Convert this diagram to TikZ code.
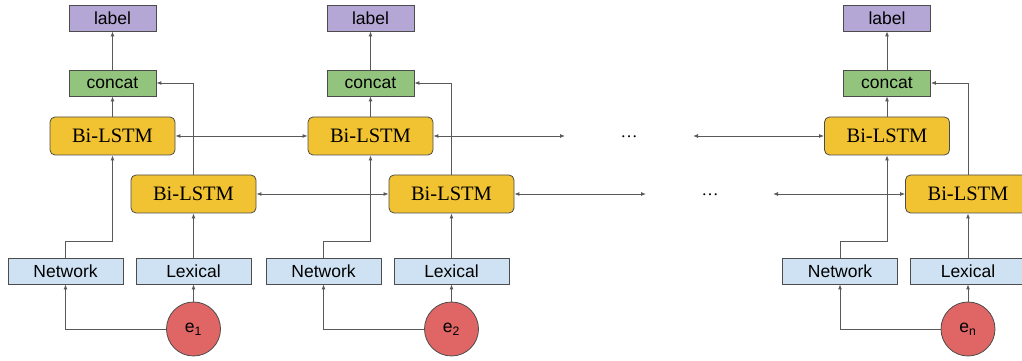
\documentclass[tikz,border=0pt]{standalone}
\usepackage{fontspec}
\setmainfont{Liberation Serif}
\setsansfont{Liberation Sans}
\usetikzlibrary{arrows.meta,positioning}
\definecolor{labelpurple}{HTML}{B4A7D6}
\definecolor{concatgreen}{HTML}{93C47D}
\definecolor{lstmyellow}{HTML}{F1C232}
\definecolor{featblue}{HTML}{CFE2F3}
\definecolor{entityred}{HTML}{E06666}
\definecolor{linegray}{HTML}{595959}
\tikzset{
	box/.style={draw=black!70, line width=0.8pt, inner sep=0pt, font=\sffamily\fontsize{17.5}{20}\selectfont},
	labelbox/.style={box, fill=labelpurple, minimum width=87pt, minimum height=26pt},
	concatbox/.style={box, fill=concatgreen, minimum width=87pt, minimum height=26pt},
	lstmbox/.style={box, fill=lstmyellow, rounded corners=5pt, minimum width=125pt, minimum height=38pt, font=\rmfamily\fontsize{20.5}{24}\selectfont},
	featbox/.style={box, fill=featblue, minimum width=115pt, minimum height=26pt},
	entity/.style={box, circle, fill=entityred, minimum size=54pt},
	conn/.style={draw=linegray, line width=0.9pt, -{Latex[length=5pt,width=4pt]}},
	bothway/.style={conn, {Latex[length=5pt,width=4pt]}-{Latex[length=5pt,width=4pt]}},
	gap/.style={font=\rmfamily\fontsize{17}{20}\selectfont, inner sep=0pt}
}
\begin{document}
\begin{tikzpicture}
	\useasboundingbox (0pt, 0pt) rectangle (1022pt, 361pt);
	% first entity
	\node[labelbox] (labelone)		at (112.5pt, 343pt)	{label};
	\node[concatbox] (concatone)	at (112.5pt, 278pt)	{concat};
	\node[lstmbox] (bitopone)		at (112.5pt, 225pt)	{Bi-LSTM};
	\node[lstmbox] (bibotone)		at (193.5pt, 167pt)	{Bi-LSTM};
	\node[featbox] (netone)		at (65.5pt, 90pt)	{Network};
	\node[featbox] (lexone)		at (193.5pt, 90pt)	{Lexical};
	\node[entity] (eone)			at (193.5pt, 32pt)	{e\textsubscript{1}};
	% second entity
	\node[labelbox] (labeltwo)		at (370.5pt, 343pt)	{label};
	\node[concatbox] (concattwo)	at (370.5pt, 278pt)	{concat};
	\node[lstmbox] (bitoptwo)		at (370.5pt, 225pt)	{Bi-LSTM};
	\node[lstmbox] (bibottwo)		at (451.5pt, 167pt)	{Bi-LSTM};
	\node[featbox] (nettwo)		at (323.5pt, 90pt)	{Network};
	\node[featbox] (lextwo)		at (451.5pt, 90pt)	{Lexical};
	\node[entity] (etwo)			at (451.5pt, 32pt)	{e\textsubscript{2}};
	% last entity
	\node[labelbox] (labeln)		at (887pt, 343pt)	{label};
	\node[concatbox] (concatn)		at (887pt, 278pt)	{concat};
	\node[lstmbox] (bitopn)		at (887pt, 225pt)	{Bi-LSTM};
	\node[lstmbox] (bibotn)		at (968pt, 167pt)	{Bi-LSTM};
	\node[featbox] (netn)			at (840pt, 90pt)	{Network};
	\node[featbox] (lexn)			at (968pt, 90pt)	{Lexical};
	\node[entity] (en)			at (968pt, 32pt)	{e\textsubscript{n}};
	% the gap
	\node[gap] (dotstop)			at (629pt, 224pt)	{\dots};
	\node[gap] (dotsbot)			at (710pt, 166pt)	{\dots};
	\coordinate (topout)			at (565pt, 225pt);
	\coordinate (topin)			at (693pt, 225pt);
	\coordinate (botout)			at (646pt, 167pt);
	\coordinate (botin)			at (773pt, 167pt);
	% vertical flow
	\draw[conn] (eone) -- (lexone);
	\draw[conn] (eone) -| (netone);
	\draw[conn] (netone) -- ++(0pt, 30pt) -| (bitopone);
	\draw[conn] (lexone) -- (bibotone);
	\draw[conn] (bibotone) |- (concatone);
	\draw[conn] (bitopone) -- (concatone);
	\draw[conn] (concatone) -- (labelone);
	\draw[conn] (etwo) -- (lextwo);
	\draw[conn] (etwo) -| (nettwo);
	\draw[conn] (nettwo) -- ++(0pt, 30pt) -| (bitoptwo);
	\draw[conn] (lextwo) -- (bibottwo);
	\draw[conn] (bibottwo) |- (concattwo);
	\draw[conn] (bitoptwo) -- (concattwo);
	\draw[conn] (concattwo) -- (labeltwo);
	\draw[conn] (en) -- (lexn);
	\draw[conn] (en) -| (netn);
	\draw[conn] (netn) -- ++(0pt, 30pt) -| (bitopn);
	\draw[conn] (lexn) -- (bibotn);
	\draw[conn] (bibotn) |- (concatn);
	\draw[conn] (bitopn) -- (concatn);
	\draw[conn] (concatn) -- (labeln);
	% sequence links
	\draw[bothway] (bitopone) -- (bitoptwo);
	\draw[bothway] (bitoptwo) -- (topout);
	\draw[bothway] (topin) -- (bitopn);
	\draw[bothway] (bibotone) -- (bibottwo);
	\draw[bothway] (bibottwo) -- (botout);
	\draw[bothway] (botin) -- (bibotn);
\end{tikzpicture}
\end{document}
